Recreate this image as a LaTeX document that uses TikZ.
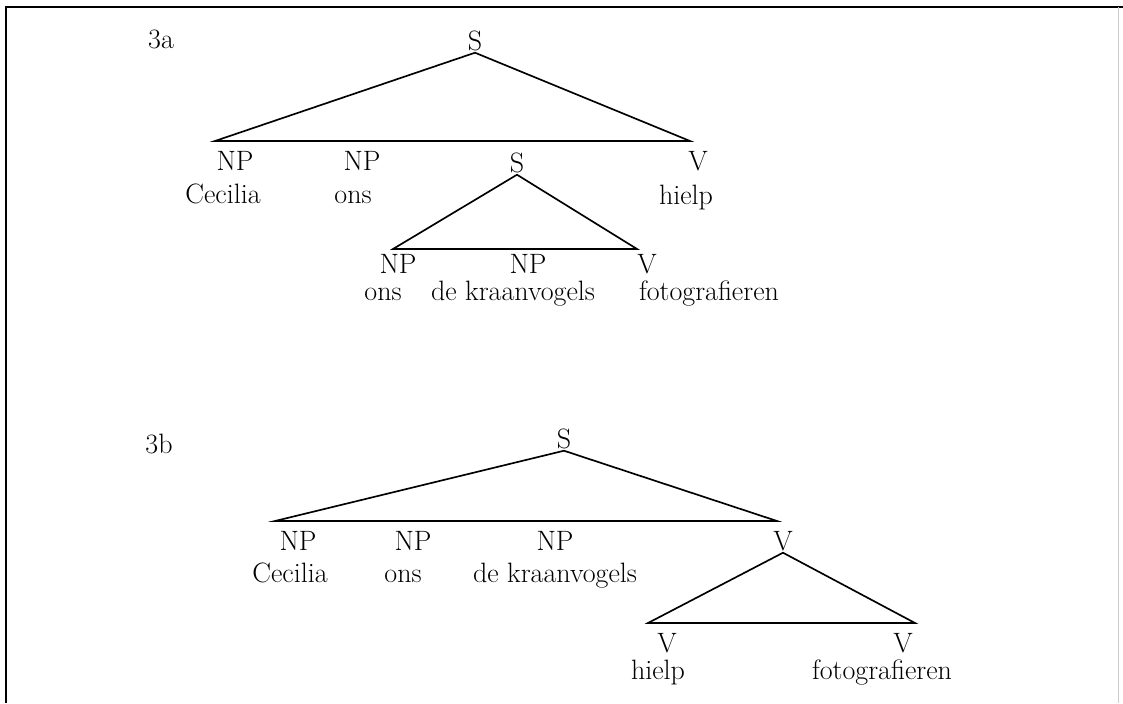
\documentclass[tikz,border=0pt]{standalone}
\usepackage{tikz}
\usetikzlibrary{positioning}

\begin{document}
\begin{tikzpicture}[x=0.75pt,y=-0.75pt,
  lbl/.style={anchor=base,inner sep=1.5pt,font=\fontsize{21}{25}\selectfont},
  branch/.style={line width=1.25pt,line join=miter}]
  \useasboundingbox (0,0) rectangle (1123,703);
  % frame
  \draw[line width=1.8pt] (1123,7) -- (6,7) -- (6,703);
  \draw[black!20,line width=0.6pt] (1118,7) -- (1118,703);

  % 3a
  \node[lbl] (numA) at (161,48) {3a};
  \node[lbl] (sA) at (475,50) {S};
  \coordinate (aL) at (215,141);
  \coordinate (aR) at (690,141);
  \node[lbl] (npA1) at (235,170) {NP};
  \node[lbl] (npA2) at (362,170) {NP};
  \node[lbl] (sA2) at (517,172) {S};
  \node[lbl] (vA) at (698,170) {V};
  \node[lbl] (cecA) at (223,203) {Cecilia};
  \node[lbl] (onsA) at (353,203) {ons};
  \node[lbl] (hielpA) at (686,204) {hielp};
  \coordinate (aL2) at (393,249);
  \coordinate (aR2) at (637,249);
  \node[lbl] (npA3) at (398,273) {NP};
  \node[lbl] (npA4) at (528,273) {NP};
  \node[lbl] (vA2) at (647,273) {V};
  \node[lbl] (onsA2) at (383,300) {ons};
  \node[lbl] (kraanA) at (513,300) {de kraanvogels};
  \node[lbl] (fotoA) at (709,300) {fotografieren};
  \draw[branch] (sA.south) -- (aL) -- (aR) -- cycle;
  \draw[branch] (sA2.south) -- (aL2) -- (aR2) -- cycle;

  % 3b
  \node[lbl] (numB) at (159,453) {3b};
  \node[lbl] (sB) at (564,448) {S};
  \coordinate (bL) at (275,521);
  \coordinate (bR) at (777,521);
  \node[lbl] (npB1) at (298,550) {NP};
  \node[lbl] (npB2) at (413,550) {NP};
  \node[lbl] (npB3) at (555,550) {NP};
  \node[lbl] (vB) at (783,550) {V};
  \node[lbl] (cecB) at (290,582) {Cecilia};
  \node[lbl] (onsB) at (403,582) {ons};
  \node[lbl] (kraanB) at (555,582) {de kraanvogels};
  \coordinate (bL2) at (648,623);
  \coordinate (bR2) at (915,623);
  \node[lbl] (vB2) at (667,652) {V};
  \node[lbl] (vB3) at (903,652) {V};
  \node[lbl] (hielpB) at (658,679) {hielp};
  \node[lbl] (fotoB) at (882,679) {fotografieren};
  \draw[branch] (sB.south) -- (bL) -- (bR) -- cycle;
  \draw[branch] (vB.south) -- (bL2) -- (bR2) -- cycle;
\end{tikzpicture}
\end{document}
